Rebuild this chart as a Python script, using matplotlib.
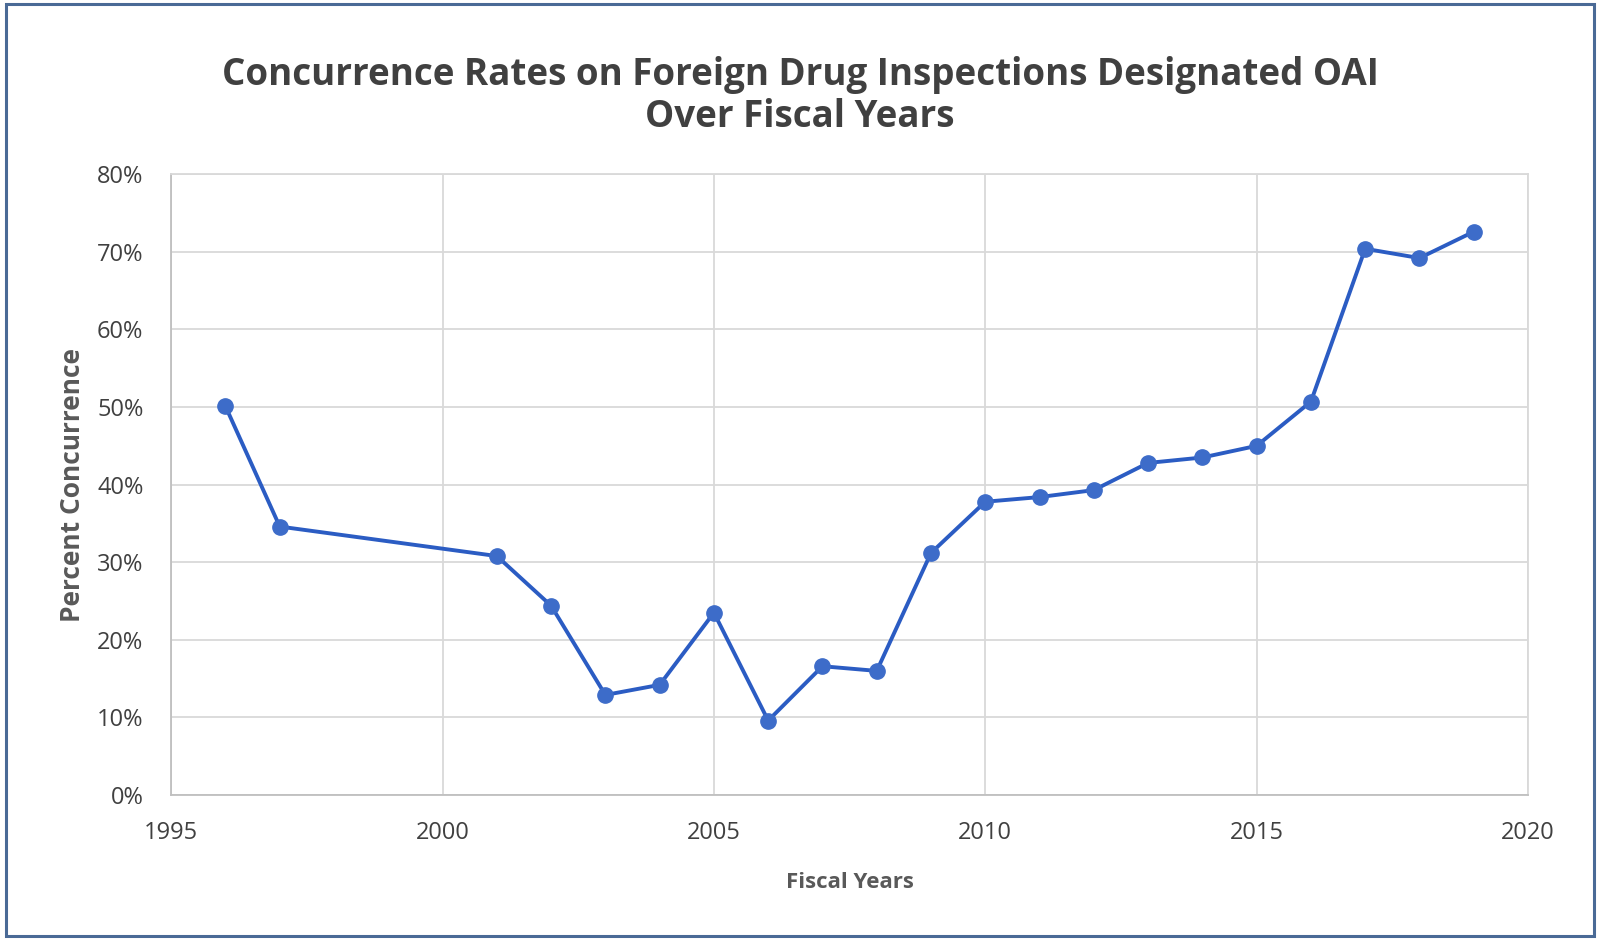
import matplotlib
matplotlib.use("Agg")
import matplotlib.pyplot as plt
from matplotlib.ticker import FuncFormatter, MultipleLocator
from matplotlib.patches import Rectangle

years = [1996, 1997, 2001, 2002, 2003, 2004, 2005, 2006, 2007, 2008, 2009,
         2010, 2011, 2012, 2013, 2014, 2015, 2016, 2017, 2018, 2019]
concurrence = [50.1, 34.6, 30.8, 24.4, 12.9, 14.2, 23.5, 9.6, 16.6, 16.0, 31.2,
               37.8, 38.4, 39.3, 42.8, 43.5, 45.0, 50.7, 70.4, 69.2, 72.6]

title = "Concurrence Rates on Foreign Drug Inspections Designated OAI\nOver Fiscal Years"
xlabel = "Fiscal Years"
ylabel = "Percent Concurrence"

plt.rcParams['font.family'] = ['Open Sans', 'DejaVu Sans']

fig = plt.figure(figsize=(16, 9.42), dpi=100)
ax = fig.add_axes([0.107, 0.156, 0.848, 0.659])

ax.plot(years, concurrence, color='#2B5CC3', linewidth=2.8, marker='o',
        markersize=11, markerfacecolor='#3D6CC9', markeredgecolor='#3D6CC9',
        zorder=3)

ax.set_xlim(1995, 2020)
ax.set_ylim(0, 80)
ax.xaxis.set_major_locator(MultipleLocator(5))
ax.yaxis.set_major_locator(MultipleLocator(10))
ax.yaxis.set_major_formatter(FuncFormatter(lambda v, p: f"{int(round(v))}%"))

ax.grid(True, color='#D9D9D9', linewidth=1.3)
ax.set_axisbelow(True)
for s in ['top', 'right']:
    ax.spines[s].set_color('#D9D9D9')
    ax.spines[s].set_linewidth(1.3)
for s in ['left', 'bottom']:
    ax.spines[s].set_color('#BFBFBF')
    ax.spines[s].set_linewidth(1.3)

ax.tick_params(axis='both', length=0, labelsize=17, labelcolor='#404040')
ax.tick_params(axis='x', pad=19)
ax.tick_params(axis='y', pad=20)

ax.set_xlabel(xlabel, fontsize=16, fontweight='bold', color='#595959', labelpad=19)
ax.set_ylabel(ylabel, fontsize=19, fontweight='bold', color='#595959', labelpad=8)

fig.text(0.5, 0.898, title, ha='center', va='center', fontsize=26.5,
         fontweight='bold', color='#404040', linespacing=1.12)

fig.patches.append(Rectangle((0.004, 0.006), 0.992, 0.99, transform=fig.transFigure,
                             fill=False, edgecolor='#4A6A96', linewidth=2.2))

fig.savefig("out.png", dpi=100, facecolor='white')
